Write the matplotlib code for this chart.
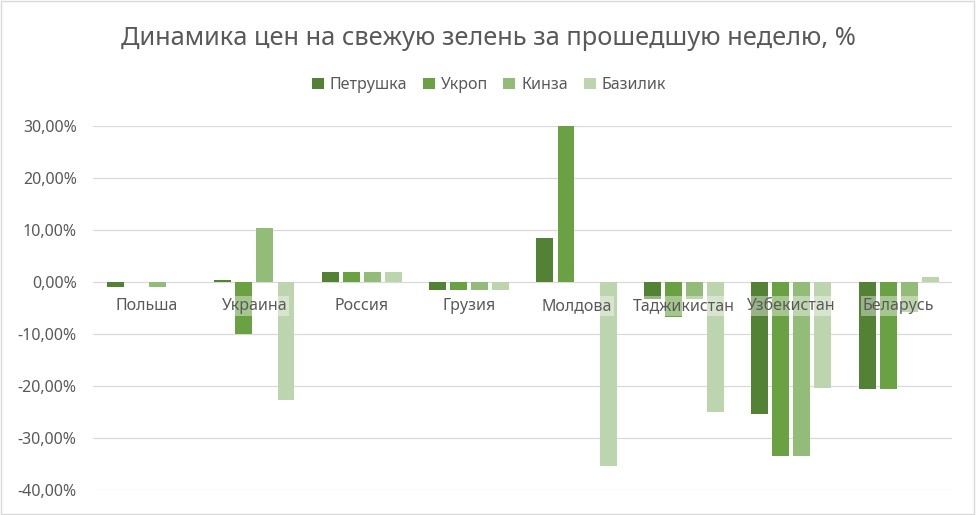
import numpy as np
import matplotlib.pyplot as plt
from matplotlib.patches import Rectangle
from matplotlib.ticker import FuncFormatter

plt.rcParams['font.family'] = ['Noto Sans', 'DejaVu Sans']

countries = ['Польша', 'Украина', 'Россия', 'Грузия', 'Молдова',
             'Таджикистан', 'Узбекистан', 'Беларусь']
series = ['Петрушка', 'Укроп', 'Кинза', 'Базилик']
petrushka = [-1.0, 0.3, 2.0, -1.5, 8.5, -3.3, -25.3, -20.6]
ukrop = [0.0, -10.0, 2.0, -1.5, 30.0, -6.7, -33.5, -20.6]
kinza = [-1.0, 10.4, 2.0, -1.5, 0.0, -3.3, -33.5, -5.7]
bazilik = [0.0, -22.7, 2.0, -1.5, -35.3, -25.0, -20.3, 1.0]
values = [petrushka, ukrop, kinza, bazilik]
colors = ['#548235', '#6AA243', '#93BC79', '#BDD5AF']

grey = '#595959'

fig = plt.figure(figsize=(9.76, 5.15), dpi=100)
ax = fig.add_axes([0.0957, 0.0485, 0.880, 0.7068])

x = np.arange(len(countries))
pitch = 0.196
width = 0.158
for i, (name, vals, c) in enumerate(zip(series, values, colors)):
    ax.bar(x + (i - 1.5) * pitch, vals, width, color=c, label=name, zorder=2)

ax.set_xlim(-0.5, len(countries) - 0.5)
ax.set_ylim(-40, 30)
ax.set_yticks(np.arange(-40, 31, 10))
ax.yaxis.set_major_formatter(FuncFormatter(lambda v, p: f'{v:.2f}%'.replace('.', ',')))
ax.tick_params(axis='y', length=0, labelsize=11.5, labelcolor=grey, pad=12)
ax.set_xticks([])
ax.grid(axis='y', color='#D9D9D9', lw=0.9, zorder=0)
ax.set_axisbelow(True)
for s in ax.spines.values():
    s.set_visible(False)

for xi, name in zip(x, countries):
    ax.text(xi, -4.6, name, ha='center', va='center', fontsize=11.5, color=grey,
            zorder=5, bbox=dict(facecolor='white', alpha=0.4, edgecolor='none', pad=1.5))

fig.text(0.5, 0.926, 'Динамика цен на свежую зелень за прошедшую неделю, %',
         ha='center', va='center', fontsize=18.3, color=grey)
fig.legend(loc='center', bbox_to_anchor=(0.501, 0.835), ncol=4, frameon=False,
           fontsize=11.5, labelcolor=grey, handlelength=0.75, handleheight=0.75,
           handletextpad=0.4, columnspacing=0.95)

fig.patches.append(Rectangle((0.001, 0.002), 0.997, 0.996, transform=fig.transFigure,
                             fill=False, edgecolor='#D9D9D9', lw=1))

fig.savefig('out.png', dpi=100)
